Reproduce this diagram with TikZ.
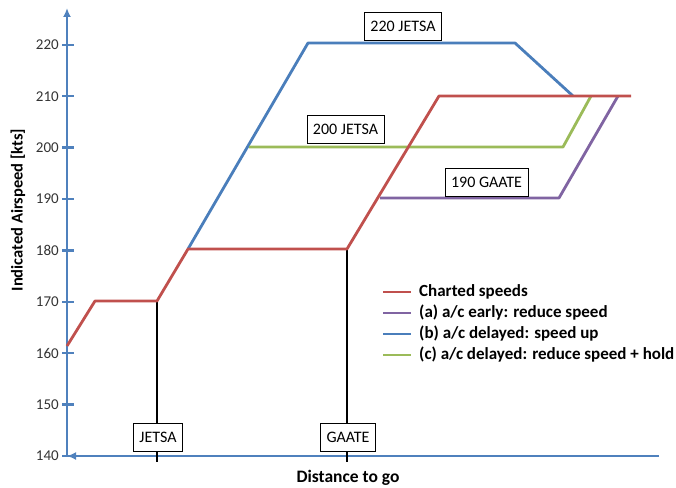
\documentclass[tikz,border=0pt]{standalone}
\usepackage{fontspec}
\setmainfont{Carlito}
\usetikzlibrary{arrows.meta}
\definecolor{axblue}{HTML}{4F81BD}
\definecolor{cred}{HTML}{C0504D}
\definecolor{cgreen}{HTML}{9BBB59}
\definecolor{cpurple}{HTML}{8064A2}
\definecolor{cblue}{HTML}{4A7EBB}
\tikzset{
  axis/.style={draw=axblue, line width=2.8pt},
  ser/.style={line width=2.8pt, line join=round},
  marker/.style={draw=black, line width=2.4pt},
  lbox/.style={draw=black, line width=0.8pt, fill=white, inner xsep=6pt, inner ysep=0pt, minimum height=28pt, font=\fontsize{16}{18}\selectfont},
  ticklbl/.style={anchor=east, inner sep=0pt, font=\fontsize{15}{17}\selectfont, text=black!80},
  legtxt/.style={anchor=west, inner sep=0pt, font=\bfseries\fontsize{17}{19}\selectfont},
}
\begin{document}
\begin{tikzpicture}[x=1pt,y=-1pt]
\useasboundingbox (0,0) rectangle (676,487);
% axes
\coordinate (O) at (67,456);
\coordinate (Ytop) at (67,8);
\coordinate (Xend) at (659,456);
\draw[axis, -{Latex[length=9pt,width=8pt]}] (O) -- (Ytop);
\draw[axis, -{Latex[length=9pt,width=8pt]}] (Xend) -- (O);
% ticks
\foreach \v in {140,150,...,220}{
  \pgfmathsetmacro{\yy}{456-(\v-140)*5.14}
  \draw[axis, line width=2.4pt] (62,\yy) -- (74,\yy);
  \node[ticklbl] (t\v) at (59,\yy) {\v};
}
% points
\coordinate (r0) at (67,346);
\coordinate (r1) at (95,301);
\coordinate (r2) at (157,301);
\coordinate (r3) at (188,249);
\coordinate (r4) at (347,249);
\coordinate (r5) at (439,96);
\coordinate (r6) at (631,96);
\coordinate (b1) at (308,43);
\coordinate (b2) at (515,43);
\coordinate (b3) at (573,96);
\coordinate (g0) at (249,147);
\coordinate (g1) at (563,147);
\coordinate (g2) at (591,96);
\coordinate (p0) at (380,198);
\coordinate (p1) at (559,198);
\coordinate (p2) at (618,96);
\coordinate (jb) at (157,462);
\coordinate (gb) at (347,462);
% markers
\draw[marker] (r2) -- (jb);
\draw[marker] (r4) -- (gb);
% series
\draw[ser, draw=cblue] (r3) -- (b1) -- (b2) -- (b3);
\draw[ser, draw=cgreen] (g0) -- (g1) -- (g2);
\draw[ser, draw=cpurple] (p0) -- (p1) -- (p2);
\draw[ser, draw=cred] (r0) -- (r1) -- (r2) -- (r3) -- (r4) -- (r5) -- (r6);
% boxes
\node[lbox] (jetsa) at (158,437) {JETSA};
\node[lbox] (gaate) at (348,437) {GAATE};
\node[lbox] (b220) at (403,26) {220 JETSA};
\node[lbox] (b200) at (345.5,129.5) {200 JETSA};
\node[lbox] (b190) at (486.5,182) {190 GAATE};
% legend
\coordinate (l1a) at (383,292); \coordinate (l1b) at (411,292);
\coordinate (l2a) at (383,313); \coordinate (l2b) at (411,313);
\coordinate (l3a) at (383,334); \coordinate (l3b) at (411,334);
\coordinate (l4a) at (383,355); \coordinate (l4b) at (411,355);
\draw[ser, draw=cred] (l1a) -- (l1b);
\draw[ser, draw=cpurple] (l2a) -- (l2b);
\draw[ser, draw=cblue] (l3a) -- (l3b);
\draw[ser, draw=cgreen] (l4a) -- (l4b);
\node[legtxt] (lg1) at (419,292) {Charted speeds};
\node[legtxt] (lg2) at (419,313) {(a) a/c early: reduce speed};
\node[legtxt] (lg3) at (419,334) {(b) a/c delayed: speed up};
\node[legtxt] (lg4) at (419,355) {(c) a/c delayed: reduce speed + hold};
% axis titles
\node[font=\bfseries\fontsize{16.5}{18}\selectfont, rotate=90] (ylab) at (18,210) {Indicated Airspeed [kts]};
\node[font=\bfseries\fontsize{17.5}{19}\selectfont] (xlab) at (348,478) {Distance to go};
\end{tikzpicture}
\end{document}
